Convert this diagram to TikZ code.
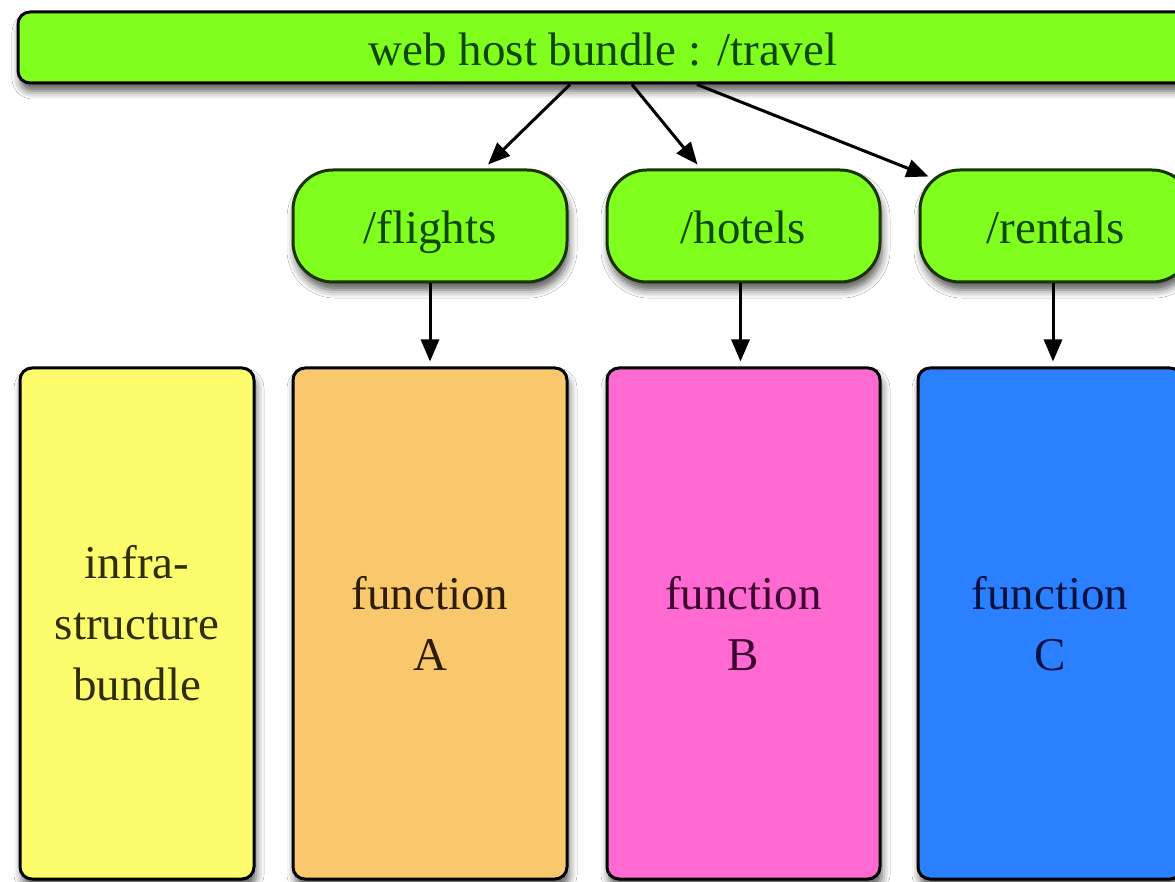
\documentclass[tikz,border=0pt]{standalone}
\usepackage{fontspec}
\setmainfont{Liberation Serif}
\usetikzlibrary{arrows.meta,shadows.blur}

\definecolor{hostgreen}{HTML}{80FF1E}
\definecolor{hostgreentext}{HTML}{0E4800}
\definecolor{pillborder}{HTML}{1A3400}
\definecolor{infrayellow}{HTML}{FCFC6C}
\definecolor{infratext}{HTML}{2E2E00}
\definecolor{funcorange}{HTML}{F9C86C}
\definecolor{functextA}{HTML}{2C1C00}
\definecolor{funcpink}{HTML}{FE6AD2}
\definecolor{functextB}{HTML}{3E002E}
\definecolor{funcblue}{HTML}{2A80FE}
\definecolor{functextC}{HTML}{041242}

\tikzset{
  softshadow/.style={blur shadow={shadow xshift=2pt, shadow yshift=-8pt,
      shadow blur radius=8pt, shadow opacity=65}},
  labelfont/.style={font=\fontsize{47}{61}\selectfont},
  hostbar/.style={draw=black, line width=3pt, fill=hostgreen,
      rounded corners=12pt, minimum width=1170pt, minimum height=71pt,
      inner sep=0pt, text height=37pt, text depth=0pt,
      text=hostgreentext, labelfont, softshadow},
  pathpill/.style={draw=pillborder, line width=3pt, fill=hostgreen,
      rounded corners=40pt, minimum height=112pt, inner sep=0pt,
      text height=35pt, text depth=0pt,
      text=hostgreentext, labelfont, softshadow},
  bundlebox/.style={draw=black, line width=3pt, rounded corners=12pt,
      minimum height=511pt, inner sep=0pt, align=center, labelfont, softshadow},
  link/.style={draw=black, line width=3pt,
      -{Triangle[length=22pt,width=18pt]}}
}

\begin{document}
\begin{tikzpicture}[x=1pt,y=-1pt]
  \useasboundingbox (0,0) rectangle (1175,882);
  \fill[white] (0,0) rectangle (1175,882);
  \clip (0,0) rectangle (1175,882);

  % top-level web host bundle
  \node[hostbar] (host) at (603,47.5) {web host bundle : /travel};

  % path nodes
  \node[pathpill, minimum width=274pt] (flights) at (430,226) {/flights};
  \node[pathpill, minimum width=273pt] (hotels) at (743.5,226) {/hotels};
  \node[pathpill, minimum width=272pt] (rentals) at (1056,226) {/rentals};

  % bundles
  \node[bundlebox, fill=infrayellow, text=infratext, minimum width=234pt]
    (infra) at (137,623.5) {infra-\\structure\\bundle};
  \node[bundlebox, fill=funcorange, text=functextA, minimum width=274pt]
    (funcA) at (430,623.5) {function\\A};
  \node[bundlebox, fill=funcpink, text=functextB, minimum width=273pt]
    (funcB) at (743.5,623.5) {function\\B};
  \node[bundlebox, fill=funcblue, text=functextC, minimum width=264pt]
    (funcC) at (1050,623.5) {function\\C};

  % host to paths
  \draw[link] ([xshift=-33pt]host.south) -- ([xshift=58pt,yshift=4pt]flights.north);
  \draw[link] ([xshift=29pt]host.south) -- ([xshift=-46pt,yshift=4pt]hotels.north);
  \draw[link] ([xshift=94pt]host.south) -- ([shift={(10,8)}]rentals.north west);

  % paths to functions
  \draw[link, shorten >=5pt] (flights.south) -- (funcA.north -| flights.south);
  \draw[link, shorten >=5pt] ([xshift=-3pt]hotels.south) -- ([xshift=-3pt]funcB.north -| hotels.south);
  \draw[link, shorten >=5pt] ([xshift=-3pt]rentals.south) -- ([xshift=-3pt]funcC.north -| rentals.south);
\end{tikzpicture}
\end{document}
